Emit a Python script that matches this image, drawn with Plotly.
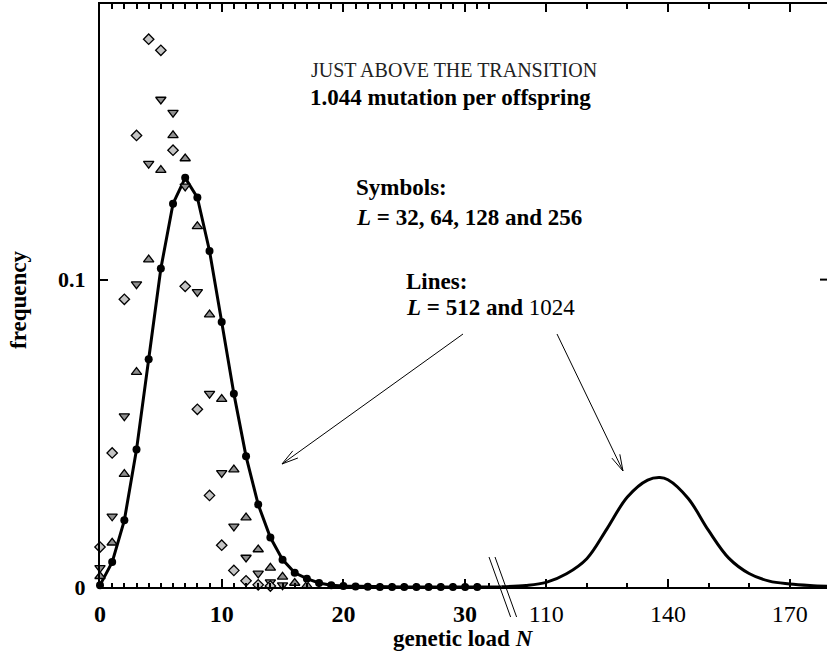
import math
import plotly.graph_objects as go

# ---------------- data ----------------
# Symbols: frequency of genetic load N for L = 32, 64, 128, 256
n_l32 = list(range(0, 15))
f_l32 = [0.0130, 0.0436, 0.0936, 0.1469, 0.1782, 0.1746, 0.1421, 0.0978,
         0.0578, 0.0298, 0.0136, 0.0054, 0.0020, 0.0007, 0.0003]

n_l64 = list(range(0, 16))
f_l64 = [0.0062, 0.0230, 0.0556, 0.0985, 0.1377, 0.1586, 0.1543, 0.1303,
         0.0960, 0.0629, 0.0371, 0.0197, 0.0096, 0.0044, 0.0016, 0.0006]

n_l128 = list(range(0, 18))
f_l128 = [0.0035, 0.0144, 0.0367, 0.0699, 0.1065, 0.1356, 0.1469, 0.1394,
          0.1173, 0.0886, 0.0611, 0.0382, 0.0226, 0.0122, 0.0062, 0.0033,
          0.0013, 0.0005]

n_l256 = list(range(0, 32))
f_l256 = [0.0006, 0.0081, 0.0217, 0.0447, 0.0741, 0.1036, 0.1247, 0.1331,
          0.1267, 0.1093, 0.0862, 0.0629, 0.0425, 0.0268, 0.0161, 0.0089,
          0.0046, 0.0027, 0.0013, 0.0006, 0.0003, 0.0002, 0.0001, 0.0,
          0.0, 0.0, 0.0, 0.0, 0.0, 0.0, 0.0, 0.0]

# Lines: L = 512 (left part of the axis) and L = 1024 (right part)
n_l512 = list(range(0, 34))
f_l512 = [0.0006, 0.0081, 0.0217, 0.0447, 0.0741, 0.1036, 0.1247, 0.1331,
          0.1267, 0.1093, 0.0862, 0.0629, 0.0425, 0.0268, 0.0161, 0.0089,
          0.0046, 0.0027, 0.0013, 0.0006, 0.0003, 0.0002, 0.0001, 0.0,
          0.0, 0.0, 0.0, 0.0, 0.0, 0.0, 0.0, 0.0, 0.0, 0.0]

n_l1024 = [99, 105, 110, 115, 120, 125, 130, 135, 138, 140, 145, 150, 155,
           160, 165, 170, 175, 180]
f_l1024 = [0.0001, 0.0005, 0.0015, 0.0043, 0.0092, 0.0190, 0.0293, 0.0348,
           0.0356, 0.0349, 0.0288, 0.0184, 0.0094, 0.0044, 0.0019, 0.0010,
           0.0005, 0.0002]

# tick labels of the broken x axis
major_n = [0, 10, 20, 30, 110, 140, 170]
major_txt = ["<b>0</b>", "<b>10</b>", "<b>20</b>", "<b>30</b>", "110", "140", "170"]
minor_n = [k for k in range(1, 33) if k % 10 != 0] + [120, 130, 150, 160]
ytick_vals = [0, 0.1]
ytick_txt = ["<b>0</b>", "<b>0.1</b>"]


# ---------------- broken axis ----------------
# N up to the break is drawn 1:1, the high-N part is compressed by 3
def axis_pos(n):
    return n if n < 50 else n / 3.0


def to_axis(ns):
    return [axis_pos(n) for n in ns]


W, H = 827, 667
L_M, R_M, T_M, B_M = 100, 0, 4, 80
PW, PH = W - L_M - R_M, H - T_M - B_M
PX_PER_UNIT = 12.17
X_MAX = PW / PX_PER_UNIT
Y_MAX = 0.18966
FONT = "Liberation Serif"


def px(x):
    return (x - L_M) / PW


def py(y):
    return (H - B_M - y) / PH


fig = go.Figure()

# lines
fig.add_trace(go.Scatter(x=to_axis(n_l512), y=f_l512, mode="lines",
                         line=dict(color="black", width=3), cliponaxis=False,
                         showlegend=False))
fig.add_trace(go.Scatter(x=to_axis(n_l1024), y=f_l1024, mode="lines",
                         line=dict(color="black", width=3, shape="spline",
                                   smoothing=1.0),
                         showlegend=False))

# symbols
fig.add_trace(go.Scatter(x=to_axis(n_l256), y=f_l256, mode="markers",
                         marker=dict(symbol="circle", size=8, color="black"),
                         cliponaxis=False, showlegend=False))
fig.add_trace(go.Scatter(x=to_axis(n_l128), y=f_l128, mode="markers",
                         marker=dict(symbol="triangle-up", size=9, color="#8f8f8f",
                                     line=dict(color="black", width=1.3)),
                         cliponaxis=False, showlegend=False))
fig.add_trace(go.Scatter(x=to_axis(n_l64), y=f_l64, mode="markers",
                         marker=dict(symbol="triangle-down", size=9, color="#8f8f8f",
                                     line=dict(color="black", width=1.3)),
                         cliponaxis=False, showlegend=False))
fig.add_trace(go.Scatter(x=to_axis(n_l32), y=f_l32, mode="markers",
                         marker=dict(symbol="diamond", size=8, color="#c4c4c4",
                                     line=dict(color="black", width=1.3)),
                         cliponaxis=False, showlegend=False))

# ---------------- decorations ----------------
shapes = []

# break marks on the x axis
for x0 in (489, 495):
    shapes.append(dict(type="line", xref="paper", yref="paper",
                       x0=px(x0), y0=py(557), x1=px(x0 + 21.6), y1=py(617),
                       line=dict(color="black", width=1)))

# right-hand tick at 0.1
shapes.append(dict(type="line", xref="paper", yref="y",
                   x0=1 - 7 / PW, x1=1, y0=0.1, y1=0.1,
                   line=dict(color="black", width=2)))


def arrow(tail, tip, leg=17.0, ang=15.0):
    dx, dy = tail[0] - tip[0], tail[1] - tip[1]
    d = math.hypot(dx, dy)
    ux, uy = dx / d, dy / d
    pts = []
    for s in (-1, 1):
        a = math.radians(s * ang)
        vx = ux * math.cos(a) - uy * math.sin(a)
        vy = ux * math.sin(a) + uy * math.cos(a)
        pts.append((tip[0] + leg * vx, tip[1] + leg * vy))
    shapes.append(dict(type="line", xref="paper", yref="paper",
                       x0=px(tail[0]), y0=py(tail[1]), x1=px(tip[0]), y1=py(tip[1]),
                       line=dict(color="black", width=1)))
    path = "M {:.5f},{:.5f} L {:.5f},{:.5f} L {:.5f},{:.5f}".format(
        px(pts[0][0]), py(pts[0][1]), px(tip[0]), py(tip[1]),
        px(pts[1][0]), py(pts[1][1]))
    shapes.append(dict(type="path", xref="paper", yref="paper", path=path,
                       line=dict(color="black", width=1)))


arrow((463, 334), (282, 464))
arrow((557, 334), (623, 471))

annotations = []


def label(text, x, y, size, color="black", **kw):
    annotations.append(dict(text=text, xref="paper", yref="paper",
                            x=px(x), y=py(y), xanchor=kw.get("xanchor", "left"),
                            yanchor="middle", showarrow=False,
                            textangle=kw.get("angle", 0),
                            font=dict(family=FONT, size=size, color=color)))


label("JUST ABOVE THE TRANSITION", 309, 70, 20, color="#222")
label("<b>1.044 mutation per offspring</b>", 308, 97, 23)
label("<b>Symbols:</b>", 354, 188, 23)
label("<b><i>L</i> = 32, 64, 128 and 256</b>", 354, 218, 23)
label("<b>Lines:</b>", 404, 281, 23)
label("<b><i>L</i> = 512 and </b>1024", 404, 307, 23)
label("<b>genetic load <i>N</i></b>", 463, 638, 23, xanchor="center")
label("<b>frequency</b>", 18, 300, 23, xanchor="center", angle=-90)

fig.update_layout(
    width=W, height=H,
    margin=dict(l=L_M, r=R_M, t=T_M, b=B_M),
    paper_bgcolor="white", plot_bgcolor="white",
    shapes=shapes, annotations=annotations,
    xaxis=dict(range=[0, X_MAX], showgrid=False, zeroline=False,
               showline=True, linecolor="black", linewidth=2, mirror="allticks",
               ticks="inside", ticklen=8, tickwidth=1.5, tickcolor="black",
               tickmode="array", tickvals=to_axis(major_n), ticktext=major_txt,
               ticklabelstandoff=4,
               tickfont=dict(family=FONT, size=24, color="black"),
               minor=dict(tickmode="array", tickvals=to_axis(minor_n),
                          ticks="inside", ticklen=4.5, tickwidth=1.5,
                          tickcolor="black", showgrid=False)),
    yaxis=dict(range=[0, Y_MAX], showgrid=False, zeroline=False,
               showline=True, linecolor="black", linewidth=2, mirror=False,
               ticks="inside", ticklen=8, tickwidth=2, tickcolor="black",
               tickmode="array", tickvals=ytick_vals, ticktext=ytick_txt,
               ticklabelstandoff=8,
               tickfont=dict(family=FONT, size=22, color="black")),
)

fig.write_html("out.html")
